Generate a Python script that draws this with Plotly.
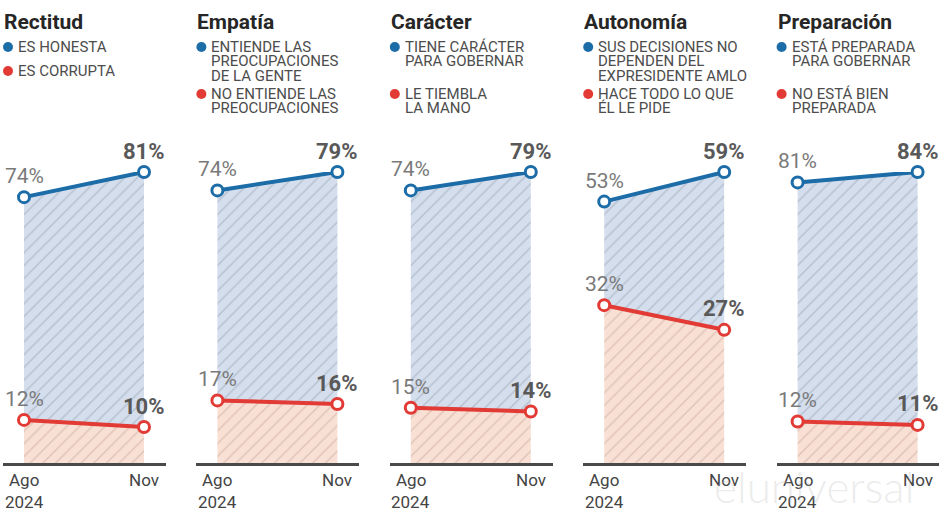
import plotly.graph_objects as go

# ---- data ----
titles = ["Rectitud", "Empatía", "Carácter", "Autonomía", "Preparación"]
pos_labels = [
    ["ES HONESTA"],
    ["ENTIENDE LAS", "PREOCUPACIONES", "DE LA GENTE"],
    ["TIENE CARÁCTER", "PARA GOBERNAR"],
    ["SUS DECISIONES NO", "DEPENDEN DEL", "EXPRESIDENTE AMLO"],
    ["ESTÁ PREPARADA", "PARA GOBERNAR"],
]
neg_labels = [
    ["ES CORRUPTA"],
    ["NO ENTIENDE LAS", "PREOCUPACIONES"],
    ["LE TIEMBLA", "LA MANO"],
    ["HACE TODO LO QUE", "ÉL LE PIDE"],
    ["NO ESTÁ BIEN", "PREPARADA"],
]
periods = ["Ago", "Nov"]
period_sub = ["2024", ""]
pos_values = [[74, 81], [74, 79], [74, 79], [53, 59], [81, 84]]
neg_values = [[12, 10], [17, 16], [15, 14], [32, 27], [12, 11]]

# ---- style ----
W, H = 939, 511
BLUE = "#1c6ca8"
RED = "#e23a34"
FONT = "Roboto"
panel_step = 193.4
left0 = 3
panel_w = 163
base_y = 463   # pixel of 0%
top_y = 172    # pixel of each panel's maximum value
pt_off = 21    # pixel offset of first point from panel left
pt_gap = 120   # pixel distance between points

def px_x(p):
    return min(max(p / W, 0), 1)

def px_y(p):
    return 1 - p / H

fig = go.Figure()
annotations = []
shapes = []
layout_axes = {}

for i in range(5):
    xa = "x" if i == 0 else f"x{i+1}"
    ya = "y" if i == 0 else f"y{i+1}"
    left = left0 + panel_step * i
    right = min(left + panel_w, W)
    xs = [0, 1]
    # fills
    fig.add_trace(go.Scatter(
        x=xs, y=neg_values[i], xaxis=xa, yaxis=ya, mode="lines",
        line=dict(width=0, color=RED), fill="tozeroy", fillcolor="#f8e0d5",
        fillpattern=dict(shape="/", bgcolor="#f8e0d5", fgcolor="#c9a595",
                         size=9, solidity=0.16),
        hoverinfo="skip", showlegend=False, cliponaxis=False))
    fig.add_trace(go.Scatter(
        x=xs, y=pos_values[i], xaxis=xa, yaxis=ya, mode="lines",
        line=dict(width=0, color=BLUE), fill="tonexty", fillcolor="#d4deed",
        fillpattern=dict(shape="/", bgcolor="#d4deed", fgcolor="#97a1b1",
                         size=9, solidity=0.16),
        hoverinfo="skip", showlegend=False, cliponaxis=False))
    # lines
    for vals, col in ((pos_values[i], BLUE), (neg_values[i], RED)):
        fig.add_trace(go.Scatter(
            x=xs, y=vals, xaxis=xa, yaxis=ya, mode="lines+markers",
            line=dict(width=4, color=col),
            marker=dict(size=11, color="white", line=dict(width=3, color=col)),
            showlegend=False, hoverinfo="skip", cliponaxis=False))
        # value labels
        for j in range(2):
            annotations.append(dict(
                x=xs[j], y=vals[j], xref=xa, yref=ya, yshift=21,
                text=(f"<b>{vals[j]}%</b>" if j == 1 else f"{vals[j]}%"),
                showarrow=False, xanchor="center", yanchor="middle",
                font=dict(family=FONT, size=22 if j == 1 else 21,
                          color="#595959" if j == 1 else "#7a7a7a")))
    # axes
    xkey = "xaxis" if i == 0 else f"xaxis{i+1}"
    ykey = "yaxis" if i == 0 else f"yaxis{i+1}"
    layout_axes[xkey] = dict(
        domain=[px_x(left), px_x(right)],
        range=[-pt_off / pt_gap, (right - left - pt_off) / pt_gap],
        showgrid=False, zeroline=False, showticklabels=False, ticks="",
        showline=True, linecolor="#4a4a4a", linewidth=2.5, anchor=ya,
        fixedrange=True)
    layout_axes[ykey] = dict(
        domain=[px_y(base_y), px_y(top_y)],
        range=[0, max(pos_values[i] + neg_values[i])],
        showgrid=False, zeroline=False, showticklabels=False, showline=False,
        anchor=xa, fixedrange=True)
    # tick labels
    for j in range(2):
        annotations.append(dict(
            x=xs[j], y=px_y(480), xref=xa, yref="paper", text=periods[j],
            showarrow=False, xanchor="center", yanchor="middle",
            font=dict(family=FONT, size=17, color="#444")))
        if period_sub[j]:
            annotations.append(dict(
                x=xs[j], y=px_y(502), xref=xa, yref="paper", text=period_sub[j],
                showarrow=False, xanchor="center", yanchor="middle",
                font=dict(family=FONT, size=17, color="#444")))
    # title
    annotations.append(dict(
        x=px_x(left - 1), y=px_y(22), xref="paper", yref="paper",
        text=f"<b>{titles[i]}</b>", showarrow=False, xanchor="left",
        yanchor="middle", font=dict(family=FONT, size=21, color="#262626")))
    # legend
    neg_start = 71 if len(pos_labels[i]) == 1 else 94
    for lines, y0, col in ((pos_labels[i], 47, BLUE), (neg_labels[i], neg_start, RED)):
        cx = left + 5
        shapes.append(dict(
            type="circle", xref="paper", yref="paper",
            xsizemode="pixel", ysizemode="pixel",
            xanchor=px_x(cx), yanchor=px_y(y0),
            x0=-5, x1=5, y0=-5, y1=5,
            fillcolor=col, line=dict(width=0)))
        for k, t in enumerate(lines):
            annotations.append(dict(
                x=px_x(left + 13), y=px_y(y0 + 14.3 * k), xref="paper", yref="paper",
                text=t, showarrow=False, xanchor="left", yanchor="middle",
                font=dict(family=FONT, size=15, color="#4d4d4d")))

# watermark
annotations.append(dict(
    x=px_x(712), y=px_y(486), xref="paper", yref="paper", text="eluniversal",
    showarrow=False, xanchor="left", yanchor="middle",
    font=dict(family="Lato", size=44, color="rgba(190,190,190,0.3)", weight=300)))

fig.update_layout(
    width=W, height=H, margin=dict(l=0, r=0, t=0, b=0),
    paper_bgcolor="white", plot_bgcolor="rgba(0,0,0,0)",
    showlegend=False, annotations=annotations, shapes=shapes,
    **layout_axes)

fig.write_html(
    "out.html",
    config={"displayModeBar": False},
    post_script="document.body.style.margin='0';document.body.style.overflow='hidden';",
)
